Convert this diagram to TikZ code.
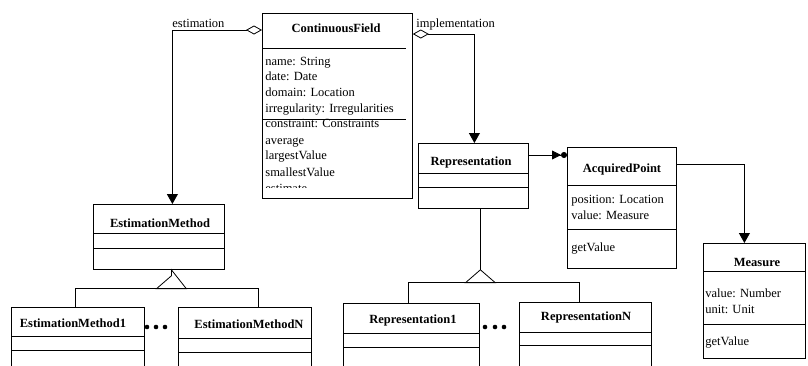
\documentclass[tikz,border=0pt]{standalone}
\usepackage{fontspec}
\setmainfont{Liberation Serif}
\usetikzlibrary{arrows.meta,positioning}
\newcommand\umlsize{\fontsize{12.5}{15}\selectfont}
\tikzset{
  classbox/.style={draw, rectangle, inner sep=0pt, anchor=north west},
  classname/.style={font=\umlsize\bfseries, inner sep=0pt, anchor=base},
  attr/.style={font=\umlsize, inner sep=0pt, anchor=base west},
  aggr/.style={{Diamond[open,length=16pt,width=9pt]}-{Triangle[length=10pt,width=11pt]}},
  many/.style={-{Triangle[length=9pt,width=9pt]Circle[length=6pt]}},
  assoc/.style={-{Triangle[length=10pt,width=11pt]}},
}
\begin{document}
\begin{tikzpicture}[x=1pt,y=-1pt,line width=0.8pt]
    \useasboundingbox (0,0) rectangle (808,365);
    \clip (0,0) rectangle (808,365);
    % ContinuousField
    \node[classbox,minimum width=150pt,minimum height=185pt] (field) at (262,13) {};
    \draw (262,48) -- (406,48);
    \draw (262,119) -- (406,119);
    \node[classname] (fieldname) at (336,32) {ContinuousField};
    \node[attr] (fa1) at (265,65) {name: String};
    \node[attr] (fa2) at (265,80) {date: Date};
    \node[attr] (fa3) at (265,96) {domain: Location};
    \node[attr] (fa4) at (265,112) {irregularity: Irregularities};
    \node[attr] (fa5) at (265,127) {constraint: Constraints};
    \node[attr] (fm1) at (265,144) {average};
    \node[attr] (fm2) at (265,159) {largestValue};
    \node[attr] (fm3) at (265,176) {smallestValue};
    \begin{scope}
      \clip (262,13) rectangle (412,187.5);
      \node[attr] (fm4) at (265,192) {estimate};
    \end{scope}
    % EstimationMethod and subclasses
    \node[classbox,minimum width=131pt,minimum height=65pt] (estim) at (93,204) {};
    \draw (93,233) -- (224,233);
    \draw (93,248) -- (224,248);
    \node[classname] (estimname) at (160,227) {EstimationMethod};
    \node[classbox,minimum width=133pt,minimum height=80pt] (estim1) at (11,307) {};
    \draw (11,336) -- (144,336);
    \draw (11,350) -- (144,350);
    \node[classname] (estim1name) at (73,327) {EstimationMethod1};
    \node[classbox,minimum width=133pt,minimum height=80pt] (estimN) at (178,307) {};
    \draw (178,338) -- (311,338);
    \draw (178,352) -- (311,352);
    \node[classname] (estimNname) at (249,328) {EstimationMethodN};
    \foreach \x in {147,156,165} {%
      \fill (\x,327) circle (2.3);
    }
    % Representation and subclasses
    \node[classbox,minimum width=110pt,minimum height=65pt] (repr) at (418,143) {};
    \draw (418,173) -- (528,173);
    \draw (418,187) -- (528,187);
    \node[classname] (reprname) at (471,165) {Representation};
    \node[classbox,minimum width=136pt,minimum height=80pt] (repr1) at (343,303) {};
    \draw (343,333) -- (479,333);
    \draw (343,347) -- (479,347);
    \node[classname] (repr1name) at (413,323) {Representation1};
    \node[classbox,minimum width=132pt,minimum height=80pt] (reprN) at (519,302) {};
    \draw (519,332) -- (651,332);
    \draw (519,345) -- (651,345);
    \node[classname] (reprNname) at (586,320) {RepresentationN};
    \foreach \x in {485,495,504} {%
      \fill (\x,327) circle (2.3);
    }
    % AcquiredPoint
    \node[classbox,minimum width=109pt,minimum height=121pt] (point) at (567,147) {};
    \draw (567,185) -- (676,185);
    \draw (567,229) -- (676,229);
    \node[classname] (pointname) at (622,172) {AcquiredPoint};
    \node[attr] (pa1) at (571,203) {position: Location};
    \node[attr] (pa2) at (571,219) {value: Measure};
    \node[attr] (pm1) at (571,251) {getValue};
    % Measure
    \node[classbox,minimum width=102pt,minimum height=115pt] (measure) at (703,243) {};
    \draw (703,271) -- (805,271);
    \draw (703,324) -- (805,324);
    \node[classname] (measurename) at (757,266) {Measure};
    \node[attr] (ma1) at (705,297) {value: Number};
    \node[attr] (ma2) at (705,313) {unit: Unit};
    \node[attr] (mm1) at (705,345) {getValue};
    % aggregations
    \draw[aggr] ([yshift=-17pt]field.north west) -| ([xshift=13.5pt]estim.north);
    \node[attr] (estlabel) at (172,27) {estimation};
    \draw[aggr] ([yshift=-21pt]field.north east) -| ([xshift=1pt]repr.north);
    \node[attr] (implabel) at (416,27) {implementation};
    % associations
    \coordinate (rp) at ([yshift=-12pt]repr.north east);
    \draw[many] (rp) -- (rp -| point.west);
    \coordinate (pm) at ([yshift=-17pt]point.north east);
    \draw[assoc] (pm) -| ([xshift=-10pt]measure.north);
    % generalizations
    \coordinate (eg) at ([xshift=12.5pt]estim.south);
    \coordinate (ebar) at ([yshift=-19pt]eg);
    \draw (eg) -- ++(0,6) -- ++(-15,13) -- ++(30,0) -- cycle;
    \draw ([xshift=-2.5pt]estim1.north) |- (ebar) -| ([xshift=13.5pt]estimN.north);
    \coordinate (rg) at ([xshift=7pt]repr.south);
    \coordinate (rbar) at ([yshift=-74pt]rg);
    \draw (rg) -- ++(0,61) -- ++(-15,13) -- ++(30,0) -- ++(-15,-13);
    \draw ([xshift=-3pt]repr1.north) |- (rbar) -| ([xshift=-6pt]reprN.north);
\end{tikzpicture}
\end{document}
